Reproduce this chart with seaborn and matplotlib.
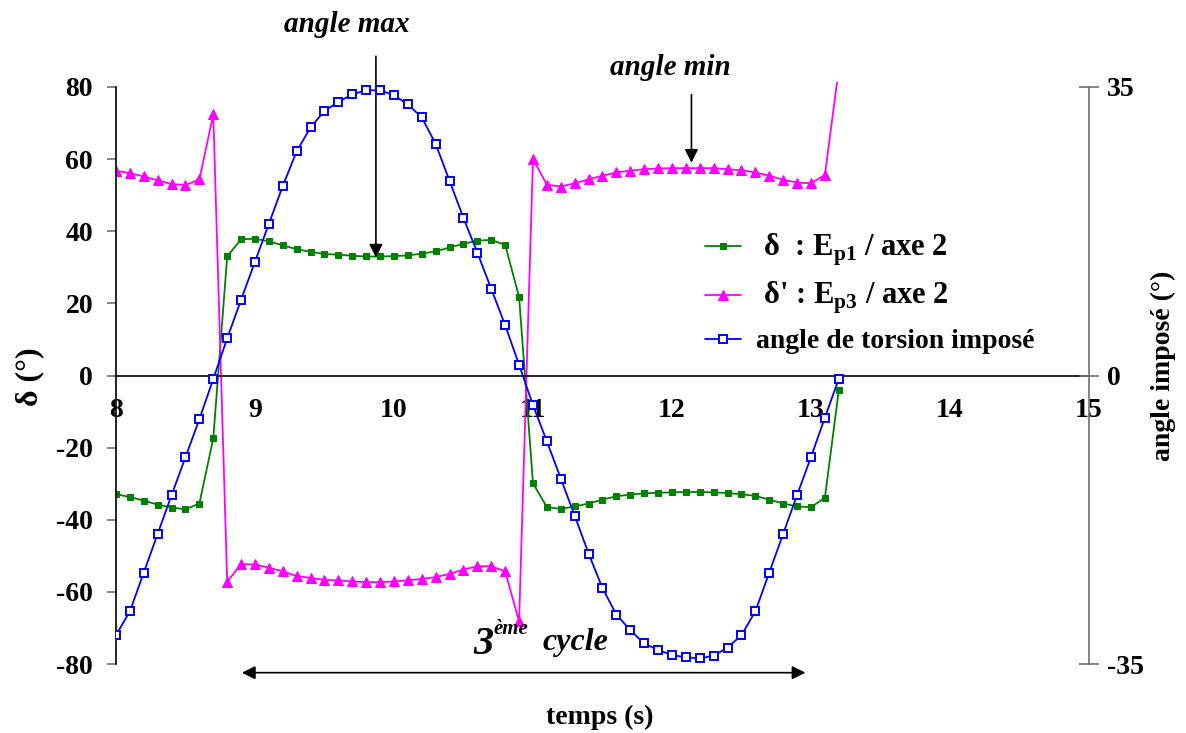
import matplotlib
matplotlib.use('Agg')
import matplotlib.pyplot as plt
import seaborn as sns

temps = [8.0, 8.1, 8.2, 8.3, 8.4, 8.5, 8.6, 8.7, 8.8, 8.9,
         9.0, 9.1, 9.2, 9.3, 9.4, 9.5, 9.6, 9.7, 9.8, 9.9,
         10.0, 10.1, 10.2, 10.3, 10.4, 10.5, 10.6, 10.7, 10.8, 10.9,
         11.0, 11.1, 11.2, 11.3, 11.4, 11.5, 11.6, 11.7, 11.8, 11.9,
         12.0, 12.1, 12.2, 12.3, 12.4, 12.5, 12.6, 12.7, 12.8, 12.9,
         13.0, 13.1, 13.2]

# delta : Ep1 / axe 2 (left axis)
delta_p1 = [-32.9, -33.7, -34.7, -35.8, -36.6, -37.1, -35.5, -17.4, 33.0, 37.8,
            37.9, 37.2, 36.1, 35.0, 34.3, 33.7, 33.5, 33.2, 33.0, 33.0,
            33.1, 33.3, 33.8, 34.4, 35.5, 36.5, 37.4, 37.6, 36.2, 21.8,
            -29.9, -36.5, -37.0, -36.3, -35.5, -34.4, -33.5, -33.0, -32.7, -32.5,
            -32.4, -32.3, -32.3, -32.4, -32.6, -32.9, -33.4, -34.4, -35.5, -36.3,
            -36.5, -33.9, -4.1]

# delta' : Ep3 / axe 2 (left axis)
delta_p3 = [56.8, 56.1, 55.2, 54.1, 53.1, 52.8, 54.4, 72.4, -57.2, -52.3,
            -52.4, -53.3, -54.3, -55.6, -56.1, -56.7, -56.8, -57.1, -57.3, -57.3,
            -57.1, -56.8, -56.4, -55.9, -55.0, -53.8, -52.9, -52.9, -54.3, -68.2,
            60.0, 52.9, 52.4, 53.3, 54.4, 55.4, 56.3, 56.8, 57.2, 57.4,
            57.5, 57.5, 57.5, 57.5, 57.2, 56.9, 56.3, 55.4, 54.3, 53.5,
            53.3, 55.6, 85.0]

# angle de torsion impose (right axis)
angle_impose = [-31.5, -28.6, -23.9, -19.2, -14.5, -9.9, -5.3, -0.4, 4.5, 9.2,
                13.8, 18.4, 23.0, 27.2, 30.1, 32.1, 33.2, 34.1, 34.6, 34.6,
                34.0, 32.9, 31.3, 28.1, 23.6, 19.1, 14.9, 10.5, 6.1, 1.3,
                -3.6, -8.0, -12.5, -17.0, -21.6, -25.8, -29.0, -30.9, -32.5, -33.3,
                -33.9, -34.2, -34.3, -34.0, -33.0, -31.5, -28.6, -23.9, -19.2, -14.5,
                -9.9, -5.1, -0.4]

labels = [r" δ  : $\mathbf{E}_{\mathbf{p1}}$ / axe 2",
          r" δ' : $\mathbf{E}_{\mathbf{p3}}$ / axe 2",
          "angle de torsion imposé"]
xticks = [8, 9, 10, 11, 12, 13, 14, 15]
yticks_left = [-80, -60, -40, -20, 0, 20, 40, 60, 80]
yticks_right = [-35, 0, 35]

sns.set_style('white')
plt.rcParams['font.family'] = ['Liberation Serif', 'DejaVu Serif']
plt.rcParams['font.weight'] = 'bold'
plt.rcParams['axes.labelweight'] = 'bold'
plt.rcParams['axes.unicode_minus'] = False
plt.rcParams['text.color'] = 'black'
plt.rcParams['xtick.labelcolor'] = 'black'
plt.rcParams['ytick.labelcolor'] = 'black'
plt.rcParams['mathtext.fontset'] = 'custom'
plt.rcParams['mathtext.bf'] = 'Liberation Serif:bold'
plt.rcParams['mathtext.rm'] = 'Liberation Serif:bold'

fig = plt.figure(figsize=(11.86, 7.33), dpi=100)
ax = fig.add_axes([0.0978, 0.0941, 0.8204, 0.7946])
ax2 = ax.twinx()

sns.lineplot(x=temps, y=delta_p1, ax=ax, color='#008000', marker='s', markersize=5,
             markeredgecolor='#008000', linewidth=1.3, legend=False)
sns.lineplot(x=temps, y=delta_p3, ax=ax, color='#FF00FF', marker='^', markersize=7,
             markeredgecolor='#FF00FF', linewidth=1.3, legend=False)
sns.lineplot(x=temps, y=angle_impose, ax=ax2, color='#0000FF', marker='s', markersize=6,
             markerfacecolor='white', markeredgecolor='#0000FF', markeredgewidth=1.4,
             linewidth=1.3, legend=False)

ax.set_xlim(8, 15)
ax.set_ylim(-80, 81.5)
ax2.set_ylim(-35, 35 * 81.5 / 80)

for s in ['top', 'right']:
    ax.spines[s].set_visible(False)
ax.spines['left'].set_bounds(-80, 80)
ax.spines['left'].set_color('black')
ax.spines['left'].set_linewidth(1.2)
ax.spines['bottom'].set_position(('data', 0))
ax.spines['bottom'].set_color('black')
ax.spines['bottom'].set_linewidth(1.2)
for s in ['top', 'left', 'bottom']:
    ax2.spines[s].set_visible(False)
ax2.spines['right'].set_bounds(-35, 35)
ax2.spines['right'].set_color('#707070')
ax2.spines['right'].set_linewidth(1.2)

ax.set_xticks(xticks)
ax.set_yticks(yticks_left)
ax2.set_yticks(yticks_right)
ax.tick_params(axis='x', direction='out', length=7, width=1.2, color='#707070',
               labelcolor='black', pad=9, labelsize=20)
ax.tick_params(axis='y', direction='out', length=6.5, width=1.2, color='#707070',
               labelcolor='black', pad=10, labelsize=20)
ax2.tick_params(axis='y', direction='inout', length=14, width=1.2, color='#707070',
                labelcolor='black', pad=6, labelsize=20)
ax.set_xlabel('')
ax.set_ylabel('')

fig.text(30 / 1186, 1 - 377 / 733, 'δ (°)', rotation=90, ha='center', va='center',
         fontsize=23, fontweight='bold')
fig.text(1163 / 1186, 1 - 366 / 733, 'angle imposé (°)', rotation=90, ha='center',
         va='center', fontsize=20, fontweight='bold')
fig.text(600 / 1186, 1 - 717 / 733, 'temps (s)', ha='center', va='center',
         fontsize=20, fontweight='bold')

arrow = dict(arrowstyle='-|>', color='black', lw=1.2, mutation_scale=20,
             shrinkA=0, shrinkB=0)
ax.annotate('', xy=(9.87, 32.7), xytext=(9.87, 88.5), arrowprops=arrow,
            annotation_clip=False)
ax.annotate('', xy=(12.14, 59.0), xytext=(12.14, 77.9), arrowprops=arrow,
            annotation_clip=False)
ax.text(9.66, 97.3, 'angle max', ha='center', va='center', fontsize=21,
        style='italic', fontweight='bold', clip_on=False)
ax.text(11.99, 85.4, 'angle min', ha='center', va='center', fontsize=21,
        style='italic', fontweight='bold', clip_on=False)

ax.annotate('', xy=(8.906, -82.4), xytext=(12.96, -82.4),
            arrowprops=dict(arrowstyle='<|-|>', color='black', lw=1.2,
                            mutation_scale=20, shrinkA=0, shrinkB=0),
            annotation_clip=False)
ax.text(10.64, -74.6, '3', ha='center', va='center', fontsize=29,
        style='italic', fontweight='bold')
ax.text(10.842, -70.4, 'ème', ha='center', va='center', fontsize=15,
        style='italic', fontweight='bold')
ax.text(11.309, -74.0, 'cycle', ha='center', va='center', fontsize=23,
        style='italic', fontweight='bold')

handles = [ax.lines[0], ax.lines[1], ax2.lines[0]]
leg = fig.legend(handles, labels, loc='center left',
                 bbox_to_anchor=(680 / 1186, 1 - 293 / 733), frameon=False,
                 handlelength=1.3, handletextpad=0.55, labelspacing=0.45,
                 fontsize=20)
leg.get_texts()[0].set_fontsize(22)
leg.get_texts()[1].set_fontsize(22)

fig.savefig('out.png', dpi=100)
